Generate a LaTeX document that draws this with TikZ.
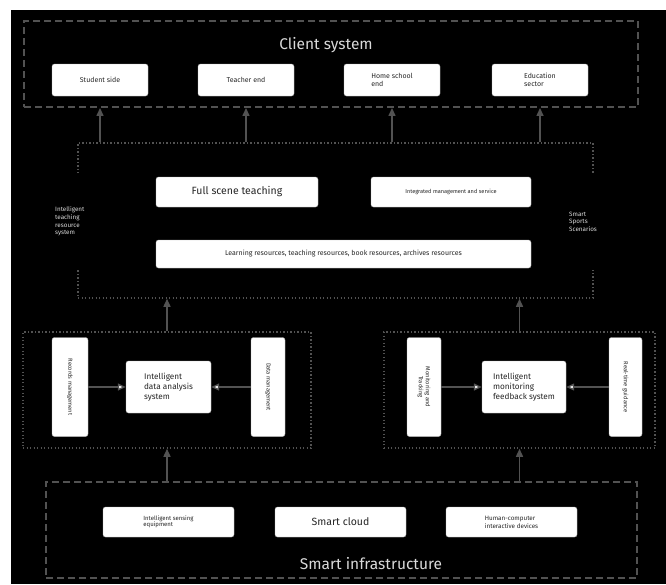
\documentclass[tikz,border=0pt]{standalone}
\usepackage{fontspec}
\setmainfont{Fira Sans}
\usetikzlibrary{arrows.meta, positioning}

\begin{document}
\begin{tikzpicture}[x=1pt, y=-1pt,
  wbox/.style={draw=gray!60, fill=white, rounded corners=2.5pt, text=black!85, align=left, inner sep=2pt},
  cbox/.style={wbox, minimum width=96pt, minimum height=32pt, font=\fontsize{7}{8.5}\selectfont},
  vbox/.style={wbox, rotate=-90, align=center, minimum width=99pt, font=\fontsize{5.8}{6.8}\selectfont},
  sbox/.style={wbox, minimum width=85pt, minimum height=52pt, font=\fontsize{8.2}{10}\selectfont},
  bbox/.style={wbox, minimum width=131pt, minimum height=30pt},
  dashgrp/.style={draw=black!68, line width=1.9pt, dash pattern=on 7pt off 4pt},
  dotgrp/.style={draw=black!68, line width=1.5pt, dash pattern=on 1.3pt off 2.2pt},
  uparrow/.style={draw=black!68, line width=1.4pt, -{Triangle[length=8pt, width=7pt]}},
  sidearrow/.style={draw=black!68, line width=1.4pt, -{Triangle[length=8pt, width=7pt, fill=white]}},
  ttl/.style={text=white!85!black, font=\fontsize{15.5}{18}\selectfont},
  sidelbl/.style={text=white!85!black, fill=black, align=left, inner sep=1pt, minimum height=97pt, font=\fontsize{6.3}{7.6}\selectfont}
]
  % canvas with white margin at top and left
  \fill[white] (0,0) rectangle (666,584);
  \fill[black] (11,10) rectangle (666,584);
  \useasboundingbox (0,0) rectangle (666,584);

  % Client system
  \node[dashgrp, minimum width=614pt, minimum height=86pt] (client) at (331,64) {};
  \node[ttl] (clientttl) at (326,45) {Client system};
  \node[cbox] (stu) at (100,80) {Student side};
  \node[cbox] (tea) at (246,80) {Teacher end};
  \node[cbox] (home) at (392,80) {Home school\\end};
  \node[cbox] (edu) at (540,80) {Education\\sector};

  % Middle layer
  \node[dotgrp, minimum width=515pt, minimum height=155pt] (mid) at (335.5,220.5) {};
  \node[wbox, minimum width=162pt, minimum height=30pt, font=\fontsize{10.5}{12}\selectfont] (full) at (237,192) {Full scene teaching};
  \node[wbox, minimum width=160pt, minimum height=30pt, font=\fontsize{5.6}{7}\selectfont] (integ) at (451,192) {Integrated management and service};
  \node[wbox, minimum width=375pt, minimum height=28pt, font=\fontsize{7}{8}\selectfont] (learn) at (343.5,254) {Learning resources, teaching resources, book resources, archives resources};
  \node[sidelbl, anchor=west] (itrs) at (54,221.5) {Intelligent\\teaching\\resource\\system};
  \node[sidelbl, anchor=west] (sss) at (568,221.5) {Smart\\Sports\\Scenarios};

  % Lower left
  \node[dotgrp, minimum width=288pt, minimum height=116pt] (leftgrp) at (167,390) {};
  \node[vbox, minimum height=36pt] (records) at (70,387) {Records management};
  \node[sbox] (analysis) at (168.5,387) {Intelligent\\data analysis\\system};
  \node[vbox, minimum height=34pt] (datamgmt) at (268,387) {Data management};

  % Lower right
  \node[dotgrp, minimum width=271pt, minimum height=116pt] (rightgrp) at (519.5,390) {};
  \node[vbox, minimum height=34pt] (monitor) at (424,387) {Monitoring and\\Tracking};
  \node[sbox, minimum width=84pt] (feedback) at (524,387) {Intelligent\\monitoring\\feedback system};
  \node[vbox, minimum height=33pt] (guide) at (625.5,387) {Real-time guidance};

  % Smart infrastructure
  \node[dashgrp, minimum width=591pt, minimum height=96pt] (infra) at (341.5,530) {};
  \node[bbox, font=\fontsize{6}{6.5}\selectfont] (sensing) at (168.5,522) {Intelligent sensing\\equipment};
  \node[bbox, font=\fontsize{10.5}{12}\selectfont] (cloud) at (340.5,522) {Smart cloud};
  \node[bbox, font=\fontsize{6.3}{8}\selectfont] (hci) at (511.5,522) {Human-computer\\interactive devices};
  \node[ttl] (infrattl) at (371,564) {Smart infrastructure};

  % arrows
  \foreach \n in {stu, tea, home, edu}
    \draw[uparrow] (mid.north -| \n) -- (client.south -| \n);
  \foreach \g in {leftgrp, rightgrp}{
    \draw[uparrow] (\g.north) -- (mid.south -| \g.north);
    \draw[uparrow] (infra.north -| \g.south) -- (\g.south);
  }
  \draw[sidearrow] (records) -- (analysis);
  \draw[sidearrow] (datamgmt) -- (analysis);
  \draw[sidearrow] (monitor) -- (feedback);
  \draw[sidearrow] (guide) -- (feedback);
\end{tikzpicture}
\end{document}
